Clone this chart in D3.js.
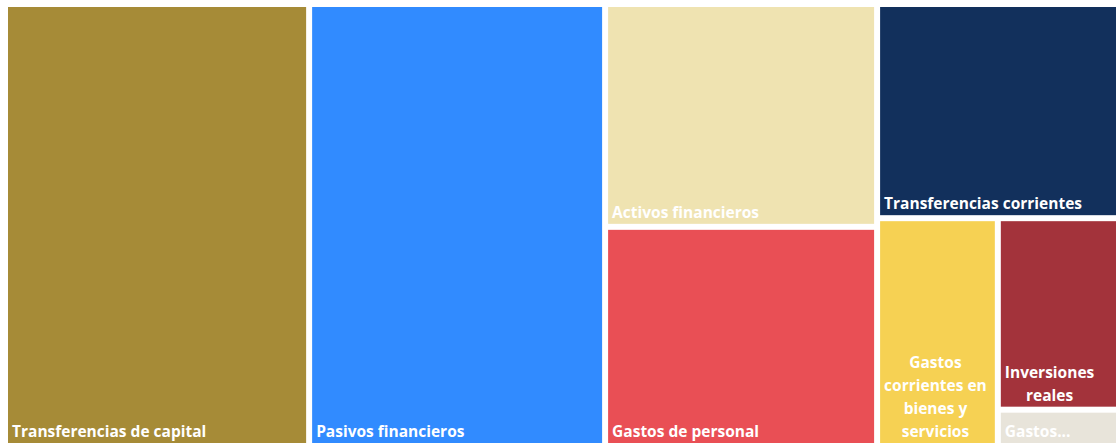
<!DOCTYPE html>
<html lang="es">
<head>
<meta charset="utf-8">
<script src="https://cdn.jsdelivr.net/npm/d3@7"></script>
<style>
  html, body { margin: 0; padding: 0; background: #ffffff; overflow: hidden; }
  svg { display: block; }
  .lbl { font-family: "Open Sans", "Noto Sans", sans-serif; font-weight: 700; font-size: 15.5px; fill: #ffffff; }
</style>
</head>
<body>
<svg id="chart" width="1116" height="443"></svg>
<script>
// Budget by expenditure chapter (millions of euros)
const categories = [
  "Transferencias de capital",
  "Pasivos financieros",
  "Activos financieros",
  "Gastos de personal",
  "Transferencias corrientes",
  "Gastos corrientes en bienes y servicios",
  "Inversiones reales",
  "Gastos financieros"
];
const values = [134.4, 130.8, 60.6, 59.6, 51.8, 27.5, 23.2, 4.4];
const colors = ["#A68B37", "#318BFF", "#EFE3B1", "#E94F55", "#12305C", "#F6D153", "#A3333B", "#E8E4DA"];

const width = 1116, height = 443;
const margin = { left: 8, top: 7 };
const pad = 4, lineH = 23, bottomPad = 6;

const svg = d3.select("#chart");

const root = d3.hierarchy({ children: categories.map((c, i) => ({ name: c, value: values[i], color: colors[i] })) })
  .sum(d => d.value || 0)
  .sort((a, b) => b.value - a.value);

d3.treemap()
  .tile(d3.treemapSquarify.ratio(1))
  .size([width - margin.left, height - margin.top])
  .paddingInner(6)
  .round(false)(root);

const g = svg.append("g").attr("transform", `translate(${margin.left},${margin.top})`);

const cells = g.selectAll("g.cell")
  .data(root.leaves())
  .join("g")
  .attr("class", "cell");

cells.append("rect")
  .attr("x", d => d.x0)
  .attr("y", d => d.y0)
  .attr("width", d => d.x1 - d.x0)
  .attr("height", d => d.y1 - d.y0)
  .attr("fill", d => d.data.color);

// text measurement helper
const probe = svg.append("text").attr("class", "lbl").attr("x", -1000).attr("y", -1000);
function measure(s) { probe.text(s); return probe.node().getComputedTextLength(); }

// wrap a label into lines that fit the cell, ending with "..." when it runs out of room
function layoutLabel(text, maxW, maxLines) {
  if (measure(text) <= maxW) return [text];
  const words = text.split(" ");
  const lines = [];
  let cur = "";
  words.forEach(w => {
    const t = cur ? cur + " " + w : w;
    if (measure(t) <= maxW || !cur) cur = t; else { lines.push(cur); cur = w; }
  });
  if (cur) lines.push(cur);
  if (lines.length <= maxLines) return lines;
  const kept = lines.slice(0, Math.max(1, maxLines));
  let last = kept[kept.length - 1];
  while (last.length > 1 && measure(last + "...") > maxW) last = last.slice(0, -1);
  kept[kept.length - 1] = last.trimEnd() + "...";
  return kept;
}

cells.each(function (d) {
  const w = d.x1 - d.x0, h = d.y1 - d.y0;
  const maxLines = Math.max(1, Math.floor((h - 8) / lineH));
  const lines = layoutLabel(d.data.name, w - 2 * pad, maxLines);
  const sel = d3.select(this);
  const baseY = d.y1 - bottomPad;
  if (lines.length === 1) {
    sel.append("text").attr("class", "lbl")
      .attr("x", d.x0 + pad)
      .attr("y", baseY)
      .text(lines[0]);
  } else {
    const maxW = d3.max(lines, measure);
    const cx = d.x0 + pad + maxW / 2;
    lines.forEach((ln, i) => {
      sel.append("text").attr("class", "lbl")
        .attr("x", cx)
        .attr("y", baseY - (lines.length - 1 - i) * lineH)
        .attr("text-anchor", "middle")
        .text(ln);
    });
  }
});
probe.remove();
</script>
</body>
</html>
